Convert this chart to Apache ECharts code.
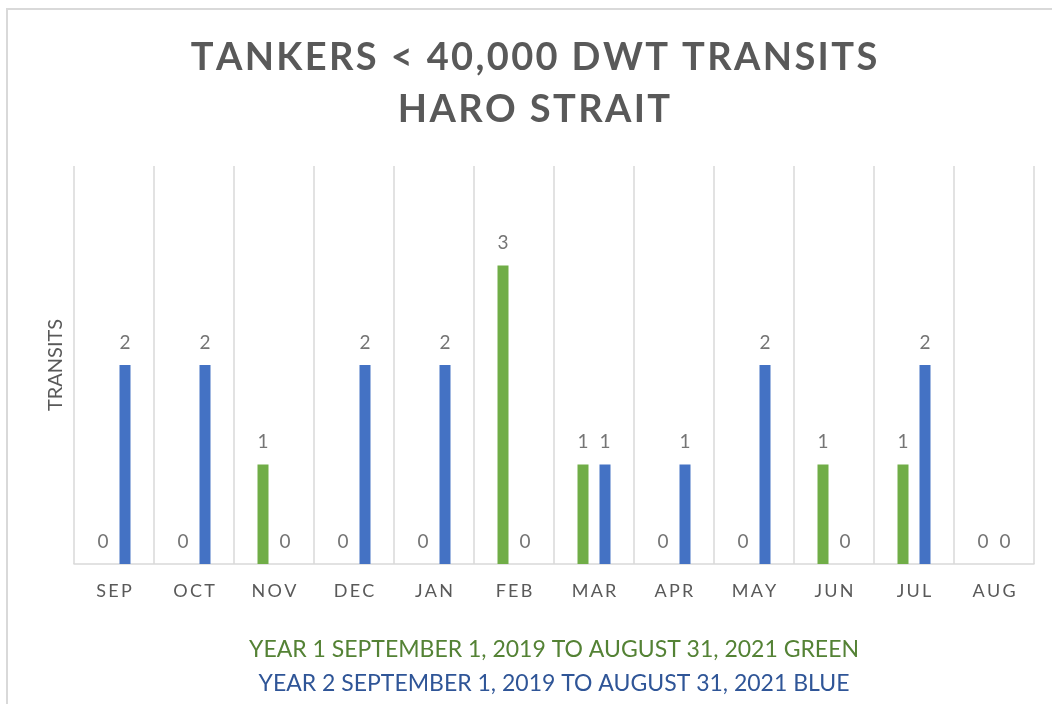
<!DOCTYPE html>
<html>
<head>
<meta charset="utf-8">
<style>
  html, body { margin: 0; padding: 0; background: #ffffff; }
  #chart { width: 1052px; height: 704px; }
</style>
<script src="https://cdn.jsdelivr.net/npm/echarts@6/dist/echarts.min.js"></script>
</head>
<body>
<div id="chart"></div>
<script>
// Monthly tanker transits (< 40,000 DWT) through Haro Strait
const months = ['SEP', 'OCT', 'NOV', 'DEC', 'JAN', 'FEB', 'MAR', 'APR', 'MAY', 'JUN', 'JUL', 'AUG'];
const year1Transits = [0, 0, 1, 0, 0, 3, 1, 0, 0, 1, 1, 0];
const year2Transits = [2, 2, 0, 2, 2, 0, 1, 1, 2, 0, 2, 0];

const titleLines = ['TANKERS < 40,000 DWT TRANSITS', 'HARO STRAIT'];
const footnoteYear1 = 'YEAR 1 SEPTEMBER 1, 2019 TO AUGUST 31, 2021 GREEN';
const footnoteYear2 = 'YEAR 2 SEPTEMBER 1, 2019 TO AUGUST 31, 2021 BLUE';
const yAxisTitle = 'TRANSITS';

const FONT = 'Lato, "Open Sans", sans-serif';
const GREEN = '#70ad47';
const BLUE = '#4472c4';
const GRID_GRAY = '#d9d9d9';

// spread letters apart (thin / hair spaces between characters)
const spaced = s => s.split('').join('\u2009');
const tracked = s => s.split('').join('\u200A');

const valueLabel = {
  show: true,
  position: 'top',
  distance: 13,
  color: '#757575',
  fontFamily: FONT,
  fontSize: 19
};

const chart = echarts.init(document.getElementById('chart'));
chart.setOption({
  animation: false,
  backgroundColor: '#ffffff',
  grid: { left: 74, right: 18, top: 166, bottom: 140 },
  xAxis: {
    type: 'category',
    data: months,
    axisLine: { show: true, lineStyle: { color: GRID_GRAY, width: 1.5 } },
    axisTick: { show: false },
    splitLine: { show: true, lineStyle: { color: GRID_GRAY, width: 1.5 } },
    axisLabel: {
      margin: 18,
      color: '#595959',
      fontFamily: FONT,
      fontSize: 18,
      formatter: v => spaced(v)
    }
  },
  yAxis: {
    type: 'value',
    min: 0,
    max: 4,
    interval: 1,
    name: yAxisTitle,
    nameLocation: 'middle',
    nameRotate: 90,
    nameGap: 8,
    nameTextStyle: { color: '#595959', fontFamily: FONT, fontSize: 20 },
    axisLine: { show: false },
    axisTick: { show: false },
    axisLabel: { show: false },
    splitLine: { show: false }
  },
  series: [
    {
      name: 'Year 1',
      type: 'bar',
      data: year1Transits,
      barWidth: 11,
      barGap: '100%',
      itemStyle: { color: GREEN },
      label: valueLabel
    },
    {
      name: 'Year 2',
      type: 'bar',
      data: year2Transits,
      barWidth: 11,
      barGap: '100%',
      itemStyle: { color: BLUE },
      label: valueLabel
    }
  ],
  graphic: [
    {
      type: 'rect',
      silent: true,
      shape: { x: 7, y: 9, width: 1200, height: 900 },
      style: { fill: 'none', stroke: GRID_GRAY, lineWidth: 2 }
    },
    {
      type: 'text',
      x: 534,
      y: 84,
      style: {
        text: titleLines.map(tracked).join('\n'),
        align: 'center',
        verticalAlign: 'middle',
        fill: '#595959',
        font: 'bold 38px ' + FONT,
        lineHeight: 52
      }
    },
    {
      type: 'text',
      x: 554,
      y: 650,
      style: {
        text: footnoteYear1,
        align: 'center',
        verticalAlign: 'middle',
        fill: '#548235',
        font: '23px ' + FONT
      }
    },
    {
      type: 'text',
      x: 554,
      y: 684,
      style: {
        text: footnoteYear2,
        align: 'center',
        verticalAlign: 'middle',
        fill: '#2f5597',
        font: '23px ' + FONT
      }
    }
  ]
});
</script>
</body>
</html>
